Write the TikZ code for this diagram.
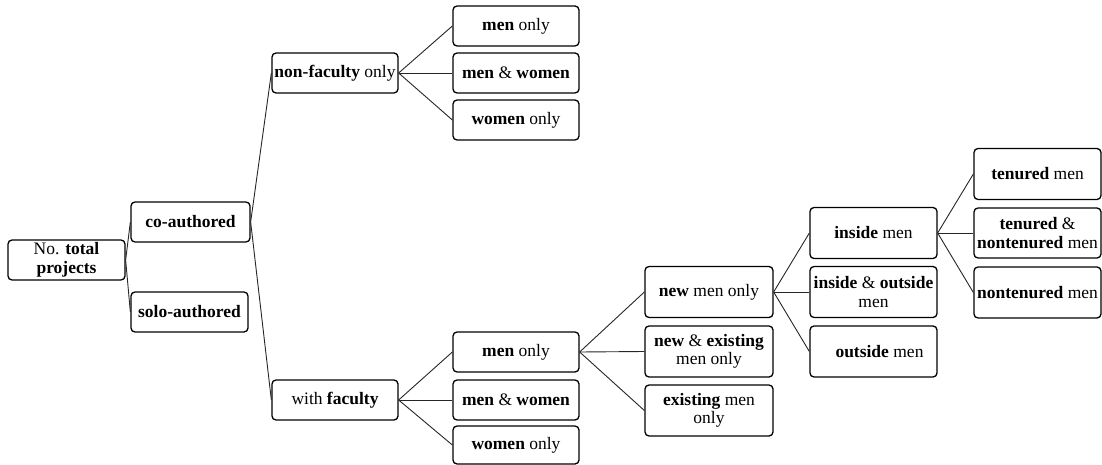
\documentclass[tikz,border=0pt]{standalone}
\usepackage{fontspec}
\setmainfont{Liberation Serif}
\begin{document}
\begin{tikzpicture}[x=1pt,y=-1pt,
  box/.style={draw=black, line width=1.3pt, rounded corners=4pt, align=center,
    inner sep=0.5pt, font=\fontsize{17.5}{18.5}\selectfont, anchor=center},
  link/.style={draw=black!85, line width=0.9pt}]
\useasboundingbox (0,0) rectangle (1102,465);
% level 0-1
\node[box, minimum width=117pt, minimum height=40pt] (tot) at (66.5,260) {No. \textbf{total}\\\textbf{projects}};
\node[box, minimum width=119pt, minimum height=40pt] (co) at (190.5,222) {\textbf{co-authored}};
\node[box, minimum width=117pt, minimum height=40pt] (solo) at (189.5,312) {\textbf{solo-authored}};
% level 2
\node[box, minimum width=126pt, minimum height=40pt] (nf) at (335,73) {\textbf{non-faculty} only};
\node[box, minimum width=126pt, minimum height=40pt] (wf) at (335,400) {with \textbf{faculty}};
% level 3
\node[box, minimum width=126pt, minimum height=40pt] (nfm) at (516,26) {\textbf{men} only};
\node[box, minimum width=126pt, minimum height=40pt] (nfmw) at (516,73) {\textbf{men} \& \textbf{women}};
\node[box, minimum width=126pt, minimum height=40pt] (nfw) at (516,120) {\textbf{women} only};
\node[box, minimum width=126pt, minimum height=40pt] (wfm) at (516,352) {\textbf{men} only};
\node[box, minimum width=126pt, minimum height=40pt] (wfmw) at (516,400) {\textbf{men} \& \textbf{women}};
\node[box, minimum width=126pt, minimum height=38pt] (wfw) at (516,445) {\textbf{women} only};
% level 4
\node[box, minimum width=128pt, minimum height=51pt] (nm) at (709,292) {\textbf{new} men only};
\node[box, minimum width=128pt, minimum height=51pt] (ne) at (709,351.5) {\textbf{new} \& \textbf{existing}\\men only};
\node[box, minimum width=128pt, minimum height=51pt] (ex) at (709,410.5) {\textbf{existing} men\\only};
% level 5
\node[box, minimum width=127pt, minimum height=51pt] (in) at (873.5,233) {\textbf{inside} men};
\node[box, minimum width=127pt, minimum height=51pt] (io) at (873.5,292) {\textbf{inside} \& \textbf{outside}\\men};
\node[box, minimum width=127pt, minimum height=51pt] (out) at (873.5,351.5) {\hspace{12pt}\textbf{outside} men};
% level 6
\node[box, minimum width=127pt, minimum height=51pt] (ten) at (1037.5,174) {\textbf{tenured} men};
\node[box, minimum width=127pt, minimum height=50pt] (tn) at (1037.5,233) {\textbf{tenured} \&\\\textbf{nontenured} men};
\node[box, minimum width=127pt, minimum height=51pt] (nt) at (1037.5,292.5) {\textbf{nontenured} men};
% connectors
\draw[link] (tot.east) -- (co.west);
\draw[link] (tot.east) -- (solo.west);
\draw[link] (co.east) -- (nf.west);
\draw[link] (co.east) -- (wf.west);
\draw[link] (nf.east) -- (nfm.west);
\draw[link] (nf.east) -- (nfmw.west);
\draw[link] (nf.east) -- (nfw.west);
\draw[link] (wf.east) -- (wfm.west);
\draw[link] (wf.east) -- (wfmw.west);
\draw[link] (wf.east) -- (wfw.west);
\draw[link] (wfm.east) -- (nm.west);
\draw[link] (wfm.east) -- (ne.west);
\draw[link] (wfm.east) -- (ex.west);
\draw[link] (nm.east) -- (in.west);
\draw[link] (nm.east) -- (io.west);
\draw[link] (nm.east) -- (out.west);
\draw[link] (in.east) -- (ten.west);
\draw[link] (in.east) -- (tn.west);
\draw[link] (in.east) -- (nt.west);
\end{tikzpicture}
\end{document}
